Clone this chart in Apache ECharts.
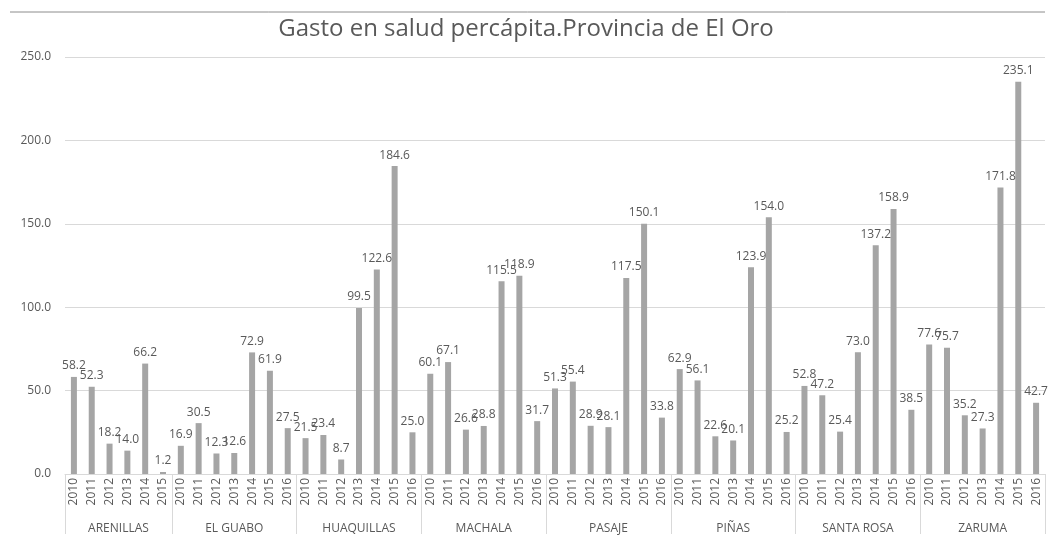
<!DOCTYPE html>
<html>
<head>
<meta charset="utf-8">
<script src="https://cdn.jsdelivr.net/npm/echarts@6/dist/echarts.min.js"></script>
<style>
  html, body { margin: 0; padding: 0; background: #fff; }
  #chart { width: 1052px; height: 535px; }
</style>
</head>
<body>
<div id="chart"></div>
<script>
// Cantones of El Oro, the years reported for each, and per-capita health spending
const groups = ['ARENILLAS', 'EL GUABO', 'HUAQUILLAS', 'MACHALA', 'PASAJE', 'PIÑAS', 'SANTA ROSA', 'ZARUMA'];
const yearsArenillas = ['2010', '2011', '2012', '2013', '2014', '2015'];
const yearsFull = ['2010', '2011', '2012', '2013', '2014', '2015', '2016'];

const arenillas = [58.2, 52.3, 18.2, 14.0, 66.2, 1.2];
const elGuabo = [16.9, 30.5, 12.3, 12.6, 72.9, 61.9, 27.5];
const huaquillas = [21.5, 23.4, 8.7, 99.5, 122.6, 184.6, 25.0];
const machala = [60.1, 67.1, 26.6, 28.8, 115.5, 118.9, 31.7];
const pasaje = [51.3, 55.4, 28.9, 28.1, 117.5, 150.1, 33.8];
const pinas = [62.9, 56.1, 22.6, 20.1, 123.9, 154.0, 25.2];
const santaRosa = [52.8, 47.2, 25.4, 73.0, 137.2, 158.9, 38.5];
const zaruma = [77.6, 75.7, 35.2, 27.3, 171.8, 235.1, 42.7];

const yAxisTicks = [0, 50, 100, 150, 200, 250];

const groupYears = [yearsArenillas, yearsFull, yearsFull, yearsFull, yearsFull, yearsFull, yearsFull, yearsFull];
const groupValues = [arenillas, elGuabo, huaquillas, machala, pasaje, pinas, santaRosa, zaruma];

// Flatten into one category list; remember where each group starts and its centre
const categories = [];
const values = [];
const groupStarts = new Set();
const groupCenters = {};
groupYears.forEach((yrs, g) => {
  const start = categories.length;
  groupStarts.add(start);
  groupCenters[(start + yrs.length / 2).toFixed(1)] = groups[g];
  yrs.forEach((y, i) => { categories.push(y); values.push(groupValues[g][i]); });
});
const total = categories.length;

const textColor = '#595959';
const font = '"Open Sans", "Noto Sans", sans-serif';

const chart = echarts.init(document.getElementById('chart'));
chart.setOption({
  animation: false,
  backgroundColor: '#ffffff',
  textStyle: { fontFamily: font, color: textColor },
  title: {
    text: 'Gasto en salud percápita.Provincia de El Oro',
    left: 'center',
    top: 12,
    textStyle: { fontFamily: font, fontSize: 24, fontWeight: 'normal', color: textColor }
  },
  graphic: [{
    type: 'line',
    shape: { x1: 10, y1: 12, x2: 1045, y2: 12 },
    style: { stroke: '#8c8c8c', lineWidth: 1 }
  }],
  grid: { left: 65, right: 7, top: 57, bottom: 57, containLabel: false },
  xAxis: [
    {
      type: 'category',
      data: categories,
      axisLine: { show: true, lineStyle: { color: '#d9d9d9' } },
      axisTick: { show: false },
      axisLabel: { interval: 0, rotate: 90, margin: 4, fontSize: 12, color: textColor, fontFamily: font }
    },
    {
      type: 'category',
      data: categories,
      position: 'bottom',
      axisLine: { show: false },
      axisLabel: { show: false },
      axisTick: {
        show: true,
        length: 60,
        interval: (idx) => groupStarts.has(idx),
        lineStyle: { color: '#d9d9d9' }
      }
    },
    {
      type: 'value',
      min: 0,
      max: total,
      interval: 0.5,
      position: 'bottom',
      axisLine: { show: false },
      axisTick: { show: false },
      splitLine: { show: false },
      axisLabel: {
        margin: 49,
        fontSize: 12,
        color: textColor,
        fontFamily: font,
        showMinLabel: true,
        showMaxLabel: true,
        formatter: (v) => groupCenters[Number(v).toFixed(1)] || ''
      }
    }
  ],
  yAxis: {
    type: 'value',
    min: yAxisTicks[0],
    max: yAxisTicks[yAxisTicks.length - 1],
    interval: 50,
    axisLine: { show: false },
    axisTick: { show: false },
    splitLine: { lineStyle: { color: '#d9d9d9' } },
    axisLabel: { formatter: (v) => v.toFixed(1), fontSize: 12, color: textColor, margin: 14, fontFamily: font }
  },
  series: [{
    type: 'bar',
    xAxisIndex: 0,
    data: values,
    barWidth: 6,
    itemStyle: { color: '#a5a5a5' },
    label: {
      show: true,
      position: 'top',
      distance: 5,
      fontSize: 12,
      color: textColor,
      fontFamily: font,
      formatter: (p) => p.value.toFixed(1)
    }
  }]
});
</script>
</body>
</html>
